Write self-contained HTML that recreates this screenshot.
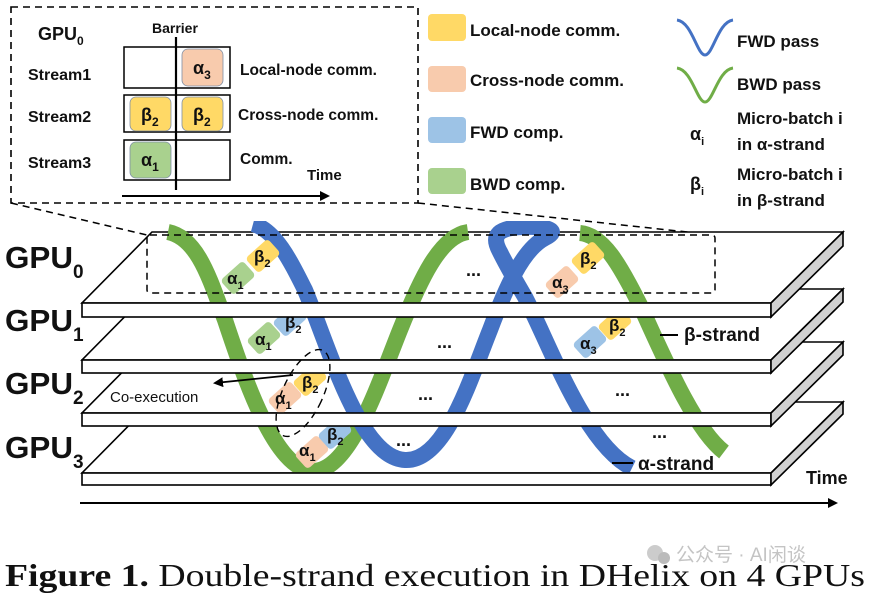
<!DOCTYPE html>
<html><head><meta charset="utf-8"><style>
html,body{margin:0;padding:0;background:#fff;}
svg{display:block;}
text{font-family:"Liberation Sans",Arial,sans-serif;font-weight:bold;fill:#111;}
</style></head><body>
<svg width="873" height="594" viewBox="0 0 873 594" xmlns="http://www.w3.org/2000/svg">
<defs>
<marker id="ah" markerWidth="10" markerHeight="10" refX="8" refY="5" orient="auto" markerUnits="userSpaceOnUse"><path d="M0,0 L10,5 L0,10 z" fill="#000"/></marker>
<clipPath id="below"><rect x="0" y="221" width="873" height="300"/></clipPath>
</defs>

<!-- Inset -->
<rect x="11" y="7" width="407" height="196" fill="none" stroke="#000" stroke-width="1.6" stroke-dasharray="7,5"/>
<text x="38" y="40" font-size="18">GPU<tspan font-size="12" dy="5">0</tspan></text>
<text x="152" y="33" font-size="14">Barrier</text>
<text x="28" y="80" font-size="16">Stream1</text>
<text x="28" y="122" font-size="16">Stream2</text>
<text x="28" y="168" font-size="16">Stream3</text>
<rect x="124" y="47" width="106" height="41" fill="#fff" stroke="#000" stroke-width="1.5"/>
<rect x="124" y="95" width="106" height="37" fill="#fff" stroke="#000" stroke-width="1.5"/>
<rect x="124" y="140" width="106" height="40" fill="#fff" stroke="#000" stroke-width="1.5"/>
<rect x="182" y="49" width="41" height="37" rx="6" fill="#f8cbad" stroke="#7f8fa6" stroke-width="0.8"/>
<rect x="130" y="97" width="41" height="34" rx="6" fill="#ffd966" stroke="#7f8fa6" stroke-width="0.8"/>
<rect x="182" y="97" width="41" height="34" rx="6" fill="#ffd966" stroke="#7f8fa6" stroke-width="0.8"/>
<rect x="130" y="142" width="41" height="36" rx="6" fill="#a9d18e" stroke="#7f8fa6" stroke-width="0.8"/>
<text x="193" y="74" font-size="18">α<tspan font-size="12" dy="5">3</tspan></text>
<text x="141" y="121" font-size="18">β<tspan font-size="12" dy="5">2</tspan></text>
<text x="193" y="121" font-size="18">β<tspan font-size="12" dy="5">2</tspan></text>
<text x="141" y="166" font-size="18">α<tspan font-size="12" dy="5">1</tspan></text>
<line x1="176" y1="37" x2="176" y2="190" stroke="#000" stroke-width="2.2"/>
<text x="240" y="75" font-size="15.5">Local-node comm.</text>
<text x="238" y="120" font-size="15.5">Cross-node comm.</text>
<text x="240" y="164" font-size="15.5">Comm.</text>
<text x="307" y="180" font-size="15">Time</text>
<line x1="122" y1="196" x2="328" y2="196" stroke="#000" stroke-width="2" marker-end="url(#ah)"/>

<!-- Legend -->
<rect x="428" y="14" width="38" height="27" rx="4" fill="#ffd966"/>
<rect x="428" y="66" width="38" height="26" rx="4" fill="#f8cbad"/>
<rect x="428" y="117" width="38" height="26" rx="4" fill="#9dc3e6"/>
<rect x="428" y="168" width="38" height="26" rx="4" fill="#a9d18e"/>
<text x="470" y="36" font-size="17">Local-node comm.</text>
<text x="470" y="86" font-size="17">Cross-node comm.</text>
<text x="470" y="138" font-size="17">FWD comp.</text>
<text x="470" y="190" font-size="17">BWD comp.</text>
<path d="M677,20 C692,22 697,55 705,55 C713,55 718,22 733,20" fill="none" stroke="#4472c4" stroke-width="3"/>
<path d="M677,68 C692,70 697,102 705,102 C713,102 718,70 733,68" fill="none" stroke="#70ad47" stroke-width="3"/>
<text x="737" y="47" font-size="17">FWD pass</text>
<text x="737" y="90" font-size="17">BWD pass</text>
<text x="690" y="140" font-size="18">α<tspan font-size="11" dy="5">i</tspan></text>
<text x="737" y="124" font-size="17">Micro-batch i</text>
<text x="737" y="150" font-size="17">in α-strand</text>
<text x="690" y="190" font-size="18">β<tspan font-size="11" dy="5">i</tspan></text>
<text x="737" y="180" font-size="17">Micro-batch i</text>
<text x="737" y="206" font-size="17">in β-strand</text>

<!-- dashed connectors -->
<line x1="11" y1="203" x2="147" y2="235" stroke="#000" stroke-width="1.5" stroke-dasharray="7,5"/>
<line x1="418" y1="203" x2="715" y2="235" stroke="#000" stroke-width="1.5" stroke-dasharray="7,5"/>

<!-- plate tops (back to front) -->
<g stroke="#000" stroke-width="1.6" fill="#fff">
<polygon points="152,402 843,402 771,473 82,473"/>
<polygon points="152,342 843,342 771,413 82,413"/>
<polygon points="152,289 843,289 771,360 82,360"/>
<polygon points="152,232 843,232 771,303 82,303"/>
</g>

<!-- strands -->
<g fill="none" stroke-width="16" clip-path="url(#below)">
<path stroke="#70ad47" d="M168,232 C198,238 210,280 225,320 C245,380 275,470 313,471 C350,471 378,385 400,330 C420,280 440,236 468,232"/>
<path stroke="#70ad47" d="M580,233 C603,235 620,265 640,305 C665,360 695,430 724,452"/>
<path stroke="#4472c4" d="M253,224 C275,230 290,260 305,290 C330,350 360,458 405,460 C445,462 470,380 490,330 C505,290 522,250 545,238 C562,230 545,226 522,227 C500,228 490,234 500,252 C507,266 515,280 525,297 C550,345 585,445 632,468"/>
</g>

<!-- blocks -->
<g stroke="none">
<rect x="-15" y="-10" width="30" height="20" rx="4" fill="#a9d18e" transform="translate(238,278) rotate(-42)"/>
<rect x="-15" y="-10" width="30" height="20" rx="4" fill="#ffd966" transform="translate(263,256) rotate(-42)"/>
<rect x="-15" y="-10" width="30" height="20" rx="4" fill="#a9d18e" transform="translate(264,338) rotate(-42)"/>
<rect x="-15" y="-10" width="30" height="20" rx="4" fill="#9dc3e6" transform="translate(290,320) rotate(-42)"/>
<rect x="-15" y="-10" width="30" height="20" rx="4" fill="#f8cbad" transform="translate(285,398) rotate(-42)"/>
<rect x="-15" y="-10" width="30" height="20" rx="4" fill="#ffd966" transform="translate(310,380) rotate(-42)"/>
<rect x="-15" y="-10" width="30" height="20" rx="4" fill="#f8cbad" transform="translate(312,452) rotate(-42)"/>
<rect x="-15" y="-10" width="30" height="20" rx="4" fill="#9dc3e6" transform="translate(335,433) rotate(-42)"/>
<rect x="-15" y="-10" width="30" height="20" rx="4" fill="#f8cbad" transform="translate(562,282) rotate(-42)"/>
<rect x="-15" y="-10" width="30" height="20" rx="4" fill="#ffd966" transform="translate(588,258) rotate(-42)"/>
<rect x="-15" y="-10" width="30" height="20" rx="4" fill="#9dc3e6" transform="translate(590,342) rotate(-42)"/>
<rect x="-15" y="-10" width="30" height="20" rx="4" fill="#ffd966" transform="translate(615,324) rotate(-42)"/>
</g>
<g font-size="17">
<text x="227" y="284">α<tspan font-size="11" dy="5">1</tspan></text>
<text x="254" y="262">β<tspan font-size="11" dy="5">2</tspan></text>
<text x="255" y="345">α<tspan font-size="11" dy="5">1</tspan></text>
<text x="285" y="328">β<tspan font-size="11" dy="5">2</tspan></text>
<text x="275" y="404">α<tspan font-size="11" dy="5">1</tspan></text>
<text x="302" y="388">β<tspan font-size="11" dy="5">2</tspan></text>
<text x="299" y="456">α<tspan font-size="11" dy="5">1</tspan></text>
<text x="327" y="440">β<tspan font-size="11" dy="5">2</tspan></text>
<text x="552" y="288">α<tspan font-size="11" dy="5">3</tspan></text>
<text x="580" y="264">β<tspan font-size="11" dy="5">2</tspan></text>
<text x="580" y="349">α<tspan font-size="11" dy="5">3</tspan></text>
<text x="609" y="331">β<tspan font-size="11" dy="5">2</tspan></text>
</g>

<!-- GPU0 dashed box -->
<rect x="147" y="235" width="568" height="58" rx="3" fill="none" stroke="#000" stroke-width="1.5" stroke-dasharray="7,5"/>

<!-- plate faces and sides -->
<g stroke="#000" stroke-width="1.6">
<rect x="82" y="303" width="689" height="14" fill="#fff"/>
<polygon points="771,303 843,232 843,246 771,317" fill="#d0d0d0"/>
<rect x="82" y="360" width="689" height="13" fill="#fff"/>
<polygon points="771,360 843,289 843,302 771,373" fill="#d0d0d0"/>
<rect x="82" y="413" width="689" height="13" fill="#fff"/>
<polygon points="771,413 843,342 843,355 771,426" fill="#d0d0d0"/>
<rect x="82" y="473" width="689" height="12" fill="#fff"/>
<polygon points="771,473 843,402 843,414 771,485" fill="#d0d0d0"/>
</g>

<!-- dots -->
<g font-size="18">
<text x="466" y="276">...</text>
<text x="437" y="348">...</text>
<text x="418" y="400">...</text>
<text x="615" y="396">...</text>
<text x="396" y="446">...</text>
<text x="652" y="438">...</text>
</g>

<!-- co-execution -->
<ellipse cx="303" cy="393" rx="20" ry="47" fill="none" stroke="#000" stroke-width="1.4" stroke-dasharray="7,5" transform="rotate(25 303 393)"/>
<line x1="293" y1="375" x2="215" y2="383" stroke="#000" stroke-width="1.8" marker-end="url(#ah)"/>
<text x="110" y="402" font-size="15" style="font-weight:normal">Co-execution</text>

<!-- strand labels -->
<line x1="660" y1="335" x2="678" y2="335" stroke="#000" stroke-width="2"/>
<text x="684" y="341" font-size="19">β-strand</text>
<line x1="612" y1="463" x2="633" y2="463" stroke="#000" stroke-width="2"/>
<text x="638" y="470" font-size="19">α-strand</text>
<text x="806" y="484" font-size="18">Time</text>
<line x1="80" y1="503" x2="836" y2="503" stroke="#000" stroke-width="2" marker-end="url(#ah)"/>

<!-- GPU labels -->
<g font-size="31">
<text x="5" y="268" textLength="68" lengthAdjust="spacingAndGlyphs">GPU</text><text x="73" y="278" font-size="19">0</text>
<text x="5" y="331" textLength="68" lengthAdjust="spacingAndGlyphs">GPU</text><text x="73" y="341" font-size="19">1</text>
<text x="5" y="394" textLength="68" lengthAdjust="spacingAndGlyphs">GPU</text><text x="73" y="404" font-size="19">2</text>
<text x="5" y="458" textLength="68" lengthAdjust="spacingAndGlyphs">GPU</text><text x="73" y="468" font-size="19">3</text>
</g>

<!-- watermark -->
<circle cx="655" cy="553" r="8" fill="#ccc"/>
<circle cx="664" cy="558" r="6" fill="#bbb"/>
<text x="676" y="561" font-size="19" style="font-weight:normal;fill:#c4c4c4;font-family:'Liberation Sans','Noto Sans CJK SC',sans-serif">公众号 · AI闲谈</text>

<!-- caption -->
<text x="5" y="586" font-size="32" textLength="860" lengthAdjust="spacingAndGlyphs" style="font-family:'Liberation Serif',serif;font-weight:normal;fill:#111"><tspan font-weight="bold">Figure 1.</tspan> Double-strand execution in DHelix on 4 GPUs</text>
</svg>
</body></html>
